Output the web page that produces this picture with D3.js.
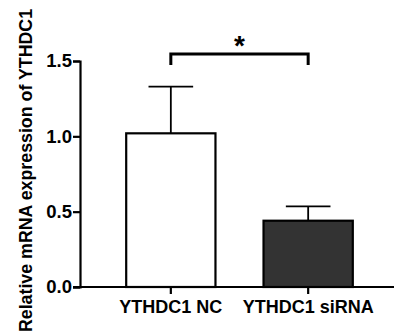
<!DOCTYPE html>
<html>
<head>
<meta charset="utf-8">
<script src="https://cdn.jsdelivr.net/npm/d3@7"></script>
<style>
  html, body { margin: 0; padding: 0; background: #fff; }
  svg { display: block; font-family: "Liberation Sans", Arial, sans-serif; font-weight: bold; }
</style>
</head>
<body>
<svg id="canvas" width="394" height="335"></svg>
<script>
// data
const groups = ["YTHDC1 NC", "YTHDC1 siRNA"]
const means = [1.02, 0.44]
const errs = [0.31, 0.095]
const fills = ["#ffffff", "#333333"]
const yTicks = [0.0, 0.5, 1.0, 1.5]
const yTitle = "Relative mRNA expression of YTHDC1"
const signif = "*"

const svg = d3.select("#canvas")

const x = d3.scaleBand()
    .domain(groups)
    .range([85, 394])
    .paddingInner(0.35)
    .paddingOuter(0.3)

const y = d3.scaleLinear()
    .domain([0, 1.5])
    .range([287, 61])

const axisX0 = 80

// y axis
const yAxis = svg.append("g")
    .attr("transform", `translate(${axisX0},0)`)
    .call(d3.axisLeft(y).tickValues(yTicks).tickFormat(d3.format(".1f")).tickSizeOuter(0).tickSize(7).tickPadding(1))
yAxis.select(".domain").attr("stroke", "#000").attr("stroke-width", 2.2)
yAxis.selectAll(".tick line").attr("stroke", "#000").attr("stroke-width", 2.2)
yAxis.selectAll(".tick text").attr("fill", "#000").attr("font-size", 18.5).attr("font-weight", "bold")
    .attr("font-family", "Liberation Sans, Arial, sans-serif")

// bars
svg.selectAll("rect.bar")
    .data(groups)
    .enter()
    .append("rect")
    .attr("class", "bar")
    .attr("x", d => x(d))
    .attr("width", x.bandwidth())
    .attr("y", (d, i) => y(means[i]))
    .attr("height", (d, i) => y(0) - y(means[i]))
    .attr("fill", (d, i) => fills[i])
    .attr("stroke", "#000")
    .attr("stroke-width", 2.2)

// error bars
const cx = d => x(d) + x.bandwidth() / 2
const capHalf = x.bandwidth() * 0.25
svg.selectAll("line.err")
    .data(groups)
    .enter()
    .append("line")
    .attr("class", "err")
    .attr("x1", cx).attr("x2", cx)
    .attr("y1", (d, i) => y(means[i]))
    .attr("y2", (d, i) => y(means[i] + errs[i]))
    .attr("stroke", "#000").attr("stroke-width", 1.8)
svg.selectAll("line.cap")
    .data(groups)
    .enter()
    .append("line")
    .attr("class", "cap")
    .attr("x1", d => cx(d) - capHalf).attr("x2", d => cx(d) + capHalf)
    .attr("y1", (d, i) => y(means[i] + errs[i]))
    .attr("y2", (d, i) => y(means[i] + errs[i]))
    .attr("stroke", "#000").attr("stroke-width", 1.8)

// x axis
const xAxis = svg.append("g")
    .attr("transform", `translate(0,${y(0)})`)
    .call(d3.axisBottom(x).tickSizeOuter(0).tickSize(7).tickPadding(6))
xAxis.select(".domain").attr("stroke", "#000").attr("stroke-width", 2.2)
    .attr("d", `M${axisX0 - 7},0H394`)
xAxis.selectAll(".tick line").attr("stroke", "#000").attr("stroke-width", 2.2)
xAxis.selectAll(".tick text").attr("fill", "#000").attr("font-size", 18).attr("font-weight", "bold")
    .attr("font-family", "Liberation Sans, Arial, sans-serif")

// y title
svg.append("text")
    .attr("transform", `translate(32,${(y(0) + 10) / 2 + 22}) rotate(-90)`)
    .attr("text-anchor", "middle")
    .attr("font-size", 17.8)
    .attr("fill", "#000")
    .text(yTitle)

// significance bracket
const bTop = 54, bLeg = 11
svg.append("path")
    .attr("d", `M${cx(groups[0])},${bTop + bLeg}V${bTop}H${cx(groups[1])}V${bTop + bLeg}`)
    .attr("fill", "none")
    .attr("stroke", "#000")
    .attr("stroke-width", 3)
svg.append("text")
    .attr("x", (cx(groups[0]) + cx(groups[1])) / 2)
    .attr("y", bTop + 1)
    .attr("text-anchor", "middle")
    .attr("font-size", 28)
    .attr("fill", "#000")
    .text(signif)
</script>
</body>
</html>
